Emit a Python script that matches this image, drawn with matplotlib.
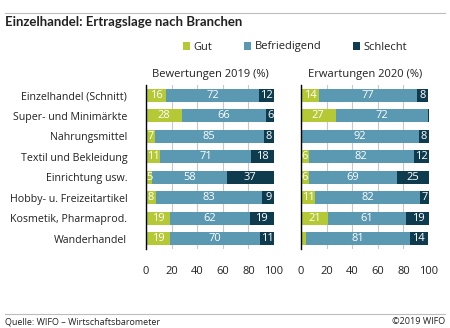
""" Einzelhandel: Ertragslage nach Branchen (WIFO). """

import numpy as np
import matplotlib.pyplot as plt
from matplotlib.patches import Patch
from matplotlib.lines import Line2D

# Data
branchen = ["Einzelhandel (Schnitt)", "Super- und Minimärkte", "Nahrungsmittel",
            "Textil und Bekleidung", "Einrichtung usw.", "Hobby- u. Freizeitartikel",
            "Kosmetik, Pharmaprod.", "Wanderhandel"]

gut_2019 = [16, 28, 7, 11, 5, 8, 19, 19]
bef_2019 = [72, 66, 85, 71, 58, 83, 62, 70]
schlecht_2019 = [12, 6, 8, 18, 37, 9, 19, 11]

gut_2020 = [14, 27, 0, 6, 6, 11, 21, 4]
bef_2020 = [77, 72, 92, 82, 69, 82, 61, 81]
schlecht_2020 = [8, 1, 8, 12, 25, 7, 19, 14]

series_names = ["Gut", "Befriedigend", "Schlecht"]
colours = ["#b4c935", "#5b98b1", "#0f3b4f"]

plt.rcParams["font.family"] = ["Open Sans", "DejaVu Sans"]

fig = plt.figure(figsize=(4.5, 3.28), dpi=100)


def draw_panel(ax, values, title):
    """ Stacked horizontal bars with white value labels. """
    y = np.arange(len(branchen))
    left = np.zeros(len(branchen))
    for vals, colour in zip(values, colours):
        vals = np.array(vals, dtype=float)
        ax.barh(y, vals, left=left, height=0.63, color=colour, zorder=2)
        for yi, (l, v) in enumerate(zip(left, vals)):
            if v >= 5:
                ax.text(l + v / 2, yi, f"{int(v)}", ha="center", va="center",
                        color="white", fontsize=8, zorder=3)
        left += vals

    ax.set_xlim(0, 100)
    ax.set_ylim(len(branchen) - 0.5, -0.5)
    ax.set_xticks([0, 20, 40, 60, 80, 100])
    ax.grid(axis="x", color="#c8c8c8", linewidth=0.8, zorder=0)
    ax.set_axisbelow(True)
    for side in ["top", "right", "bottom"]:
        ax.spines[side].set_visible(False)
    ax.spines["left"].set_color("black")
    ax.spines["left"].set_linewidth(1.0)
    ax.tick_params(axis="both", length=0, labelsize=8, colors="#222222", pad=12)
    ax.set_title(title, fontsize=8, color="#222222", pad=6)


ax1 = fig.add_axes([146 / 450, 1 - 249 / 328, 128 / 450, 164 / 328])
ax2 = fig.add_axes([301 / 450, 1 - 249 / 328, 128 / 450, 164 / 328])

draw_panel(ax1, [gut_2019, bef_2019, schlecht_2019], "Bewertungen 2019 (%)")
draw_panel(ax2, [gut_2020, bef_2020, schlecht_2020], "Erwartungen 2020 (%)")

ax1.set_yticks(np.arange(len(branchen)))
ax1.set_yticklabels(branchen)
ax1.tick_params(axis="y", pad=13.5, labelsize=7.7)
ax2.set_yticks([])

# Title and rules
fig.add_artist(Line2D([5 / 450, 445 / 450], [1 - 13 / 328, 1 - 13 / 328],
                      color="#bdbdbd", linewidth=0.8))
fig.text(5 / 450, 1 - 22 / 328, "Einzelhandel: Ertragslage nach Branchen",
         fontsize=9.5, fontweight="bold", family=["Lato", "DejaVu Sans"],
         va="center", ha="left", color="#222222")

# Legend
handles = [Patch(facecolor=c, edgecolor="none") for c in colours]
fig.legend(handles, series_names, loc="center", bbox_to_anchor=(295 / 450, 1 - 47 / 328),
           ncol=3, frameon=False, fontsize=8, handlelength=0.7, handleheight=0.7,
           handletextpad=0.3, columnspacing=2.8, labelcolor="#222222")

# Footer
fig.add_artist(Line2D([5 / 450, 445 / 450], [1 - 314 / 328, 1 - 314 / 328],
                      color="#bdbdbd", linewidth=0.8))
fig.text(5 / 450, 1 - 322 / 328, "Quelle: WIFO – Wirtschaftsbarometer",
         fontsize=6.5, va="center", ha="left", color="#222222")
fig.text(445 / 450, 1 - 322 / 328, "©2019 WIFO",
         fontsize=6.5, va="center", ha="right", color="#222222")

fig.savefig("out.png", dpi=100)
